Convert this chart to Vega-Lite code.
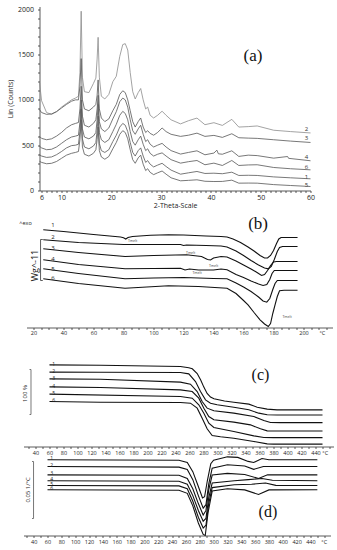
{
  "$schema": "https://vega.github.io/schema/vega-lite/v6.json",
  "background": "white",
  "padding": {"left": 6.5, "top": 4.5, "right": 0, "bottom": 0},
  "bounds": "flush",
  "spacing": 12,
  "config": {
    "view": {"stroke": null},
    "font": "Open Sans",
    "axis": {"grid": false, "domainColor": "#333", "tickColor": "#333", "labelColor": "#222", "titleColor": "#222", "labelFont": "Open Sans", "titleFont": "Open Sans", "titleFontWeight": "normal", "domainWidth": 0.8, "tickWidth": 0.8, "labelOverlap": false, "tickCount": 1000, "format": "d"}
  },
  "datasets": {
    "xrd": [
      {"c":"2","t":5.6,"v":1186},{"c":"2","t":6,"v":990},{"c":"2","t":7,"v":860},{"c":"2","t":8,"v":840},{"c":"2","t":9,"v":870},{"c":"2","t":10,"v":920},{"c":"2","t":11,"v":960},{"c":"2","t":12,"v":1000},{"c":"2","t":12.8,"v":1020},{"c":"2","t":13.4,"v":1040},{"c":"2","t":13.7,"v":1300},{"c":"2","t":13.95,"v":1978},{"c":"2","t":14.2,"v":1250},{"c":"2","t":14.6,"v":1090},{"c":"2","t":15.5,"v":1080},{"c":"2","t":16.4,"v":1180},{"c":"2","t":16.9,"v":1240},{"c":"2","t":17.15,"v":1450},{"c":"2","t":17.35,"v":1690},{"c":"2","t":17.6,"v":1250},{"c":"2","t":18,"v":1040},{"c":"2","t":18.7,"v":1010},{"c":"2","t":19.5,"v":1060},{"c":"2","t":20.3,"v":1200},{"c":"2","t":21,"v":1260},{"c":"2","t":21.7,"v":1480},{"c":"2","t":22.3,"v":1610},{"c":"2","t":22.8,"v":1620},{"c":"2","t":23.3,"v":1550},{"c":"2","t":23.8,"v":1300},{"c":"2","t":24.3,"v":1090},{"c":"2","t":24.8,"v":1010},{"c":"2","t":25.4,"v":1080},{"c":"2","t":25.9,"v":1125},{"c":"2","t":26.4,"v":1000},{"c":"2","t":26.9,"v":900},{"c":"2","t":27.3,"v":920},{"c":"2","t":27.8,"v":830},{"c":"2","t":28.5,"v":800},{"c":"2","t":29.3,"v":830},{"c":"2","t":30.2,"v":875},{"c":"2","t":31,"v":830},{"c":"2","t":32,"v":780},{"c":"2","t":33.9,"v":735},{"c":"2","t":35.5,"v":770},{"c":"2","t":37.2,"v":799},{"c":"2","t":38.8,"v":726},{"c":"2","t":40.6,"v":748},{"c":"2","t":42.3,"v":718},{"c":"2","t":44.2,"v":785},{"c":"2","t":45.6,"v":700},{"c":"2","t":47.5,"v":705},{"c":"2","t":49.3,"v":712},{"c":"2","t":52.6,"v":665},{"c":"2","t":56,"v":650},{"c":"2","t":60,"v":635},
      {"c":"3","t":5.6,"v":891},{"c":"3","t":6,"v":860},{"c":"3","t":7,"v":840},{"c":"3","t":8,"v":845},{"c":"3","t":9,"v":870},{"c":"3","t":10,"v":910},{"c":"3","t":11,"v":950},{"c":"3","t":12,"v":985},{"c":"3","t":12.8,"v":1000},{"c":"3","t":13.4,"v":1000},{"c":"3","t":13.7,"v":1150},{"c":"3","t":13.95,"v":1455},{"c":"3","t":14.2,"v":1000},{"c":"3","t":14.6,"v":900},{"c":"3","t":15.5,"v":880},{"c":"3","t":16.4,"v":920},{"c":"3","t":16.9,"v":950},{"c":"3","t":17.15,"v":1050},{"c":"3","t":17.35,"v":1220},{"c":"3","t":17.6,"v":900},{"c":"3","t":18,"v":800},{"c":"3","t":18.7,"v":760},{"c":"3","t":19.5,"v":790},{"c":"3","t":20.3,"v":880},{"c":"3","t":21,"v":950},{"c":"3","t":21.7,"v":1060},{"c":"3","t":22.3,"v":1100},{"c":"3","t":22.8,"v":1080},{"c":"3","t":23.3,"v":1000},{"c":"3","t":23.8,"v":880},{"c":"3","t":24.3,"v":760},{"c":"3","t":24.8,"v":700},{"c":"3","t":25.4,"v":760},{"c":"3","t":25.9,"v":800},{"c":"3","t":26.4,"v":700},{"c":"3","t":26.9,"v":640},{"c":"3","t":27.3,"v":660},{"c":"3","t":27.8,"v":630},{"c":"3","t":28.5,"v":610},{"c":"3","t":29.3,"v":640},{"c":"3","t":30.2,"v":690},{"c":"3","t":31,"v":650},{"c":"3","t":32,"v":620},{"c":"3","t":33.9,"v":597},{"c":"3","t":35.5,"v":610},{"c":"3","t":37.2,"v":633},{"c":"3","t":38.8,"v":597},{"c":"3","t":40.6,"v":608},{"c":"3","t":42.3,"v":586},{"c":"3","t":44.2,"v":626},{"c":"3","t":45.6,"v":582},{"c":"3","t":47.5,"v":578},{"c":"3","t":49.3,"v":575},{"c":"3","t":52.6,"v":560},{"c":"3","t":56,"v":545},{"c":"3","t":60,"v":530},
      {"c":"4","t":5.6,"v":597},{"c":"4","t":6,"v":575},{"c":"4","t":7,"v":560},{"c":"4","t":8,"v":570},{"c":"4","t":9,"v":600},{"c":"4","t":10,"v":640},{"c":"4","t":11,"v":690},{"c":"4","t":12,"v":725},{"c":"4","t":12.8,"v":740},{"c":"4","t":13.4,"v":750},{"c":"4","t":13.7,"v":900},{"c":"4","t":13.95,"v":1150},{"c":"4","t":14.2,"v":820},{"c":"4","t":14.6,"v":720},{"c":"4","t":15.5,"v":700},{"c":"4","t":16.4,"v":740},{"c":"4","t":16.9,"v":780},{"c":"4","t":17.15,"v":900},{"c":"4","t":17.35,"v":1050},{"c":"4","t":17.6,"v":760},{"c":"4","t":18,"v":680},{"c":"4","t":18.7,"v":650},{"c":"4","t":19.5,"v":690},{"c":"4","t":20.3,"v":790},{"c":"4","t":21,"v":870},{"c":"4","t":21.7,"v":980},{"c":"4","t":22.3,"v":1020},{"c":"4","t":22.8,"v":1000},{"c":"4","t":23.3,"v":920},{"c":"4","t":23.8,"v":780},{"c":"4","t":24.3,"v":660},{"c":"4","t":24.8,"v":620},{"c":"4","t":25.4,"v":680},{"c":"4","t":25.9,"v":720},{"c":"4","t":26.4,"v":620},{"c":"4","t":26.9,"v":540},{"c":"4","t":27.3,"v":560},{"c":"4","t":27.8,"v":510},{"c":"4","t":28.5,"v":480},{"c":"4","t":29.3,"v":500},{"c":"4","t":30.2,"v":520},{"c":"4","t":31,"v":480},{"c":"4","t":32,"v":440},{"c":"4","t":33.9,"v":402},{"c":"4","t":35.5,"v":420},{"c":"4","t":37.2,"v":438},{"c":"4","t":38.8,"v":394},{"c":"4","t":40.6,"v":413},{"c":"4","t":41.2,"v":445},{"c":"4","t":41.5,"v":405},{"c":"4","t":42.3,"v":400},{"c":"4","t":44.2,"v":438},{"c":"4","t":45.6,"v":376},{"c":"4","t":47.5,"v":390},{"c":"4","t":49.3,"v":385},{"c":"4","t":52.6,"v":357},{"c":"4","t":55.4,"v":375},{"c":"4","t":55.6,"v":355},{"c":"4","t":60,"v":328},
      {"c":"6","t":5.6,"v":487},{"c":"6","t":6,"v":470},{"c":"6","t":7,"v":450},{"c":"6","t":8,"v":455},{"c":"6","t":9,"v":480},{"c":"6","t":10,"v":520},{"c":"6","t":11,"v":560},{"c":"6","t":12,"v":590},{"c":"6","t":12.8,"v":600},{"c":"6","t":13.4,"v":610},{"c":"6","t":13.7,"v":750},{"c":"6","t":13.95,"v":1000},{"c":"6","t":14.2,"v":680},{"c":"6","t":14.6,"v":590},{"c":"6","t":15.5,"v":570},{"c":"6","t":16.4,"v":600},{"c":"6","t":16.9,"v":640},{"c":"6","t":17.15,"v":780},{"c":"6","t":17.35,"v":950},{"c":"6","t":17.6,"v":640},{"c":"6","t":18,"v":560},{"c":"6","t":18.7,"v":530},{"c":"6","t":19.5,"v":560},{"c":"6","t":20.3,"v":650},{"c":"6","t":21,"v":730},{"c":"6","t":21.7,"v":830},{"c":"6","t":22.3,"v":873},{"c":"6","t":22.8,"v":850},{"c":"6","t":23.3,"v":780},{"c":"6","t":23.8,"v":650},{"c":"6","t":24.3,"v":540},{"c":"6","t":24.8,"v":500},{"c":"6","t":25.4,"v":560},{"c":"6","t":25.9,"v":600},{"c":"6","t":26.4,"v":510},{"c":"6","t":26.9,"v":440},{"c":"6","t":27.3,"v":460},{"c":"6","t":27.8,"v":410},{"c":"6","t":28.5,"v":380},{"c":"6","t":29.3,"v":400},{"c":"6","t":30.2,"v":415},{"c":"6","t":31,"v":380},{"c":"6","t":32,"v":340},{"c":"6","t":33.9,"v":302},{"c":"6","t":35.5,"v":318},{"c":"6","t":37.2,"v":331},{"c":"6","t":38.8,"v":284},{"c":"6","t":40.6,"v":302},{"c":"6","t":42.3,"v":276},{"c":"6","t":44.2,"v":331},{"c":"6","t":45.6,"v":276},{"c":"6","t":47.5,"v":282},{"c":"6","t":49.3,"v":284},{"c":"6","t":52.6,"v":254},{"c":"6","t":56,"v":240},{"c":"6","t":60,"v":228},
      {"c":"1","t":5.6,"v":394},{"c":"1","t":6,"v":380},{"c":"1","t":7,"v":365},{"c":"1","t":8,"v":370},{"c":"1","t":9,"v":395},{"c":"1","t":10,"v":430},{"c":"1","t":11,"v":470},{"c":"1","t":12,"v":495},{"c":"1","t":12.8,"v":500},{"c":"1","t":13.4,"v":510},{"c":"1","t":13.7,"v":650},{"c":"1","t":13.95,"v":900},{"c":"1","t":14.2,"v":570},{"c":"1","t":14.6,"v":480},{"c":"1","t":15.5,"v":460},{"c":"1","t":16.4,"v":490},{"c":"1","t":16.9,"v":530},{"c":"1","t":17.15,"v":660},{"c":"1","t":17.35,"v":820},{"c":"1","t":17.6,"v":520},{"c":"1","t":18,"v":440},{"c":"1","t":18.7,"v":420},{"c":"1","t":19.5,"v":450},{"c":"1","t":20.3,"v":540},{"c":"1","t":21,"v":610},{"c":"1","t":21.7,"v":700},{"c":"1","t":22.3,"v":740},{"c":"1","t":22.8,"v":720},{"c":"1","t":23.3,"v":650},{"c":"1","t":23.8,"v":530},{"c":"1","t":24.3,"v":420},{"c":"1","t":24.8,"v":380},{"c":"1","t":25.4,"v":440},{"c":"1","t":25.9,"v":470},{"c":"1","t":26.4,"v":380},{"c":"1","t":26.9,"v":310},{"c":"1","t":27.3,"v":330},{"c":"1","t":27.8,"v":290},{"c":"1","t":28.5,"v":260},{"c":"1","t":29.3,"v":280},{"c":"1","t":30.2,"v":300},{"c":"1","t":31,"v":265},{"c":"1","t":32,"v":225},{"c":"1","t":33.9,"v":180},{"c":"1","t":35.5,"v":195},{"c":"1","t":37.2,"v":210},{"c":"1","t":38.8,"v":188},{"c":"1","t":40.6,"v":191},{"c":"1","t":42.3,"v":185},{"c":"1","t":44.2,"v":202},{"c":"1","t":45.6,"v":166},{"c":"1","t":47.5,"v":168},{"c":"1","t":49.3,"v":166},{"c":"1","t":52.6,"v":150},{"c":"1","t":56,"v":140},{"c":"1","t":60,"v":129},
      {"c":"5","t":5.6,"v":321},{"c":"5","t":6,"v":310},{"c":"5","t":7,"v":295},{"c":"5","t":8,"v":300},{"c":"5","t":9,"v":320},{"c":"5","t":10,"v":355},{"c":"5","t":11,"v":390},{"c":"5","t":12,"v":410},{"c":"5","t":12.8,"v":420},{"c":"5","t":13.4,"v":430},{"c":"5","t":13.7,"v":560},{"c":"5","t":13.95,"v":780},{"c":"5","t":14.2,"v":480},{"c":"5","t":14.6,"v":400},{"c":"5","t":15.5,"v":380},{"c":"5","t":16.4,"v":410},{"c":"5","t":16.9,"v":450},{"c":"5","t":17.15,"v":560},{"c":"5","t":17.35,"v":700},{"c":"5","t":17.6,"v":440},{"c":"5","t":18,"v":370},{"c":"5","t":18.7,"v":345},{"c":"5","t":19.5,"v":375},{"c":"5","t":20.3,"v":460},{"c":"5","t":21,"v":530},{"c":"5","t":21.7,"v":620},{"c":"5","t":22.3,"v":660},{"c":"5","t":22.8,"v":640},{"c":"5","t":23.3,"v":570},{"c":"5","t":23.8,"v":450},{"c":"5","t":24.3,"v":340},{"c":"5","t":24.8,"v":300},{"c":"5","t":25.4,"v":360},{"c":"5","t":25.9,"v":390},{"c":"5","t":26.4,"v":290},{"c":"5","t":26.9,"v":220},{"c":"5","t":27.3,"v":240},{"c":"5","t":27.8,"v":200},{"c":"5","t":28.5,"v":175},{"c":"5","t":29.3,"v":195},{"c":"5","t":30.2,"v":215},{"c":"5","t":31,"v":180},{"c":"5","t":32,"v":140},{"c":"5","t":33.9,"v":107},{"c":"5","t":35.5,"v":112},{"c":"5","t":37.2,"v":118},{"c":"5","t":38.8,"v":102},{"c":"5","t":40.6,"v":99},{"c":"5","t":42.3,"v":100},{"c":"5","t":44.2,"v":114},{"c":"5","t":45.6,"v":81},{"c":"5","t":47.5,"v":82},{"c":"5","t":49.3,"v":81},{"c":"5","t":52.6,"v":65},{"c":"5","t":56,"v":55},{"c":"5","t":60,"v":44}
    ],
    "xrdLab": [
      {"c":"2","t":59.2,"v":678},{"c":"3","t":59.2,"v":575},{"c":"4","t":59.2,"v":368},{"c":"6","t":59.2,"v":257},{"c":"1","t":59.2,"v":152},{"c":"5","t":59.2,"v":66}
    ],
    "dsc": [
      {"c":"1","t":26.5,"v":97.7},{"c":"1","t":40,"v":96},{"c":"1","t":60,"v":93},{"c":"1","t":78,"v":90.5},{"c":"1","t":80,"v":89.8},{"c":"1","t":81.5,"v":88.5},{"c":"1","t":83,"v":90},{"c":"1","t":86,"v":91},{"c":"1","t":98,"v":92.3},{"c":"1","t":110,"v":92.7},{"c":"1","t":120,"v":92.5},{"c":"1","t":135,"v":91.5},{"c":"1","t":145,"v":91},{"c":"1","t":149,"v":90.5},{"c":"1","t":153,"v":88.5},{"c":"1","t":158,"v":85},{"c":"1","t":163,"v":80.5},{"c":"1","t":167,"v":76.5},{"c":"1","t":171,"v":72},{"c":"1","t":174,"v":69.5},{"c":"1","t":176,"v":69.5},{"c":"1","t":178,"v":72},{"c":"1","t":180,"v":77},{"c":"1","t":182,"v":84},{"c":"1","t":183.5,"v":88.5},{"c":"1","t":185,"v":90},{"c":"1","t":190,"v":90},{"c":"1","t":196,"v":90},
      {"c":"2","t":26.5,"v":87.7},{"c":"2","t":50,"v":85},{"c":"2","t":80,"v":83},{"c":"2","t":100,"v":83},{"c":"2","t":118,"v":83},{"c":"2","t":120,"v":82},{"c":"2","t":122,"v":82.5},{"c":"2","t":135,"v":82},{"c":"2","t":145,"v":81.5},{"c":"2","t":149,"v":80.5},{"c":"2","t":155,"v":76.5},{"c":"2","t":160,"v":72},{"c":"2","t":165,"v":67},{"c":"2","t":170,"v":62.5},{"c":"2","t":174,"v":59.5},{"c":"2","t":176.5,"v":58.7},{"c":"2","t":178.5,"v":61},{"c":"2","t":180.5,"v":68},{"c":"2","t":182.5,"v":76},{"c":"2","t":184,"v":80},{"c":"2","t":186,"v":81},{"c":"2","t":196,"v":81},
      {"c":"3","t":26.5,"v":78.7},{"c":"3","t":50,"v":75},{"c":"3","t":81,"v":71},{"c":"3","t":100,"v":72},{"c":"3","t":122,"v":72.7},{"c":"3","t":132,"v":71},{"c":"3","t":136,"v":68},{"c":"3","t":138,"v":67.5},{"c":"3","t":140,"v":69.5},{"c":"3","t":145,"v":71},{"c":"3","t":149,"v":70.5},{"c":"3","t":155,"v":66.5},{"c":"3","t":160,"v":62.5},{"c":"3","t":165,"v":58.5},{"c":"3","t":169,"v":55},{"c":"3","t":172,"v":52},{"c":"3","t":174,"v":53},{"c":"3","t":176,"v":57},{"c":"3","t":178,"v":62},{"c":"3","t":180,"v":65.5},{"c":"3","t":182,"v":66},{"c":"3","t":196,"v":66},
      {"c":"4","t":26.5,"v":67.7},{"c":"4","t":50,"v":63},{"c":"4","t":81,"v":58.7},{"c":"4","t":100,"v":59},{"c":"4","t":118,"v":59.3},{"c":"4","t":121,"v":57.5},{"c":"4","t":124,"v":58.5},{"c":"4","t":130,"v":57.5},{"c":"4","t":140,"v":57.5},{"c":"4","t":145,"v":58.5},{"c":"4","t":149,"v":57.7},{"c":"4","t":155,"v":53},{"c":"4","t":160,"v":50},{"c":"4","t":165,"v":46.5},{"c":"4","t":170,"v":43.5},{"c":"4","t":173,"v":42},{"c":"4","t":175.5,"v":43},{"c":"4","t":177.5,"v":48},{"c":"4","t":179,"v":54},{"c":"4","t":180.5,"v":57},{"c":"4","t":196,"v":57},
      {"c":"5","t":26.5,"v":58.7},{"c":"5","t":50,"v":54},{"c":"5","t":81,"v":48.7},{"c":"5","t":100,"v":49.5},{"c":"5","t":120,"v":50},{"c":"5","t":140,"v":49},{"c":"5","t":149,"v":48.7},{"c":"5","t":155,"v":44.5},{"c":"5","t":160,"v":40.5},{"c":"5","t":165,"v":36},{"c":"5","t":170,"v":30.5},{"c":"5","t":173,"v":26.5},{"c":"5","t":175.5,"v":25.3},{"c":"5","t":177.5,"v":29},{"c":"5","t":179.5,"v":38},{"c":"5","t":181,"v":44},{"c":"5","t":182.5,"v":47},{"c":"5","t":196,"v":47},
      {"c":"6","t":26.5,"v":48.7},{"c":"6","t":50,"v":44},{"c":"6","t":81,"v":39.3},{"c":"6","t":110,"v":41.7},{"c":"6","t":130,"v":41},{"c":"6","t":149,"v":39.3},{"c":"6","t":155,"v":34},{"c":"6","t":160,"v":27},{"c":"6","t":163,"v":22.7},{"c":"6","t":167,"v":15},{"c":"6","t":171,"v":7.7},{"c":"6","t":174,"v":3.5},{"c":"6","t":176.5,"v":1},{"c":"6","t":178,"v":4},{"c":"6","t":179.5,"v":14},{"c":"6","t":181,"v":22.7},{"c":"6","t":182.5,"v":31},{"c":"6","t":184,"v":36.7},{"c":"6","t":187,"v":37.3},{"c":"6","t":196,"v":37.3}
    ],
    "dscLab": [
      {"s":"1","t":33,"v":103},{"s":"2","t":33,"v":91},{"s":"3","t":33,"v":80},{"s":"4","t":33,"v":69},{"s":"5","t":33,"v":59},{"s":"6","t":33,"v":50}
    ],
    "dscTm": [
      {"s":"Tmelt","t":86,"v":86.7},{"s":"Tmelt","t":124.7,"v":75},{"s":"Tmelt","t":140,"v":62},{"s":"Tmelt","t":129,"v":55},{"s":"Tmelt","t":189,"v":11}
    ],
    "tga": [
      {"c":"1","t":60,"v":181.5},{"c":"1","t":133,"v":180.5},{"c":"1","t":247,"v":177.8},{"c":"1","t":259,"v":175},{"c":"1","t":264,"v":172.6},{"c":"1","t":271,"v":162},{"c":"1","t":276,"v":148},{"c":"1","t":280.5,"v":132},{"c":"1","t":285.2,"v":118},{"c":"1","t":290,"v":110},{"c":"1","t":295,"v":106},{"c":"1","t":310,"v":101},{"c":"1","t":323.3,"v":98.5},{"c":"1","t":344.8,"v":94.1},{"c":"1","t":356.7,"v":87.4},{"c":"1","t":371,"v":83},{"c":"1","t":385,"v":81.5},{"c":"1","t":450,"v":81.5},
      {"c":"2","t":60,"v":165.2},{"c":"2","t":133,"v":165},{"c":"2","t":247,"v":164.4},{"c":"2","t":259,"v":161.5},{"c":"2","t":268.6,"v":144.4},{"c":"2","t":275.7,"v":122.2},{"c":"2","t":282.9,"v":103.7},{"c":"2","t":290,"v":96.3},{"c":"2","t":299.5,"v":92.6},{"c":"2","t":323.3,"v":87.4},{"c":"2","t":344.8,"v":81.5},{"c":"2","t":359,"v":74.1},{"c":"2","t":371,"v":70.4},{"c":"2","t":385,"v":70},{"c":"2","t":450,"v":70},
      {"c":"3","t":60,"v":150.4},{"c":"3","t":133,"v":149.6},{"c":"3","t":247,"v":143},{"c":"3","t":261.4,"v":138.5},{"c":"3","t":271,"v":122.2},{"c":"3","t":278.1,"v":100},{"c":"3","t":285.2,"v":85.2},{"c":"3","t":294.8,"v":79.3},{"c":"3","t":323.3,"v":74.1},{"c":"3","t":351.9,"v":66.7},{"c":"3","t":366.2,"v":57.8},{"c":"3","t":375.7,"v":53.3},{"c":"3","t":390,"v":53},{"c":"3","t":450,"v":53},
      {"c":"4","t":60,"v":132.6},{"c":"4","t":133,"v":131.1},{"c":"4","t":247,"v":125.9},{"c":"4","t":263.9,"v":122.2},{"c":"4","t":273.3,"v":107.4},{"c":"4","t":280.5,"v":85.2},{"c":"4","t":287.6,"v":66.7},{"c":"4","t":294.8,"v":59.3},{"c":"4","t":323.3,"v":54.1},{"c":"4","t":347.1,"v":48.1},{"c":"4","t":361.4,"v":39.3},{"c":"4","t":371,"v":34.8},{"c":"4","t":385,"v":34.5},{"c":"4","t":450,"v":34.5},
      {"c":"5","t":60,"v":116.3},{"c":"5","t":247,"v":111.1},{"c":"5","t":263.9,"v":107.4},{"c":"5","t":273.3,"v":92.6},{"c":"5","t":280.5,"v":74.1},{"c":"5","t":287.6,"v":51.9},{"c":"5","t":294.8,"v":42.2},{"c":"5","t":323.3,"v":33.3},{"c":"5","t":351.9,"v":23.7},{"c":"5","t":366.2,"v":20},{"c":"5","t":380,"v":19.8},{"c":"5","t":450,"v":19.8},
      {"c":"6","t":60,"v":100},{"c":"6","t":133,"v":98.5},{"c":"6","t":247,"v":97.8},{"c":"6","t":261.4,"v":96.3},{"c":"6","t":271,"v":85.2},{"c":"6","t":278.1,"v":63},{"c":"6","t":285.2,"v":39.3},{"c":"6","t":292.4,"v":24.4},{"c":"6","t":304.3,"v":21.5},{"c":"6","t":323.3,"v":18.5},{"c":"6","t":351.9,"v":11.1},{"c":"6","t":371,"v":5.9},{"c":"6","t":380,"v":5.2},{"c":"6","t":450,"v":5.2}
    ],
    "tgaLab": [
      {"s":"1","t":66,"v":183.5},{"s":"2","t":66,"v":167.5},{"s":"3","t":66,"v":152.5},{"s":"4","t":66,"v":134.5},{"s":"5","t":66,"v":118.5},{"s":"6","t":66,"v":102.5}
    ],
    "dtg": [
      {"c":"1","t":60,"v":6.64},{"c":"1","t":250,"v":6.6},{"c":"1","t":262,"v":6.4},{"c":"1","t":270,"v":5.6},{"c":"1","t":278,"v":4.3},{"c":"1","t":284,"v":3.3},{"c":"1","t":287,"v":3.4},{"c":"1","t":291,"v":4.8},{"c":"1","t":296,"v":6.3},{"c":"1","t":300,"v":6.6},{"c":"1","t":320,"v":6.9},{"c":"1","t":335,"v":6.85},{"c":"1","t":350,"v":6.5},{"c":"1","t":358,"v":6.4},{"c":"1","t":370,"v":6.75},{"c":"1","t":380,"v":6.64},{"c":"1","t":450,"v":6.64},
      {"c":"2","t":60,"v":6.05},{"c":"2","t":250,"v":6.0},{"c":"2","t":262,"v":5.8},{"c":"2","t":270,"v":4.9},{"c":"2","t":278,"v":3.5},{"c":"2","t":285,"v":2.4},{"c":"2","t":289,"v":2.7},{"c":"2","t":293,"v":4.5},{"c":"2","t":298,"v":5.9},{"c":"2","t":320,"v":6.2},{"c":"2","t":345,"v":6.1},{"c":"2","t":358,"v":5.8},{"c":"2","t":372,"v":6.05},{"c":"2","t":450,"v":6.05},
      {"c":"3","t":60,"v":5.32},{"c":"3","t":250,"v":5.28},{"c":"3","t":262,"v":5.0},{"c":"3","t":270,"v":4.1},{"c":"3","t":278,"v":2.8},{"c":"3","t":285,"v":1.8},{"c":"3","t":289,"v":2.2},{"c":"3","t":293,"v":4.0},{"c":"3","t":298,"v":5.3},{"c":"3","t":320,"v":5.45},{"c":"3","t":345,"v":5.35},{"c":"3","t":365,"v":5.0},{"c":"3","t":378,"v":5.32},{"c":"3","t":450,"v":5.32},
      {"c":"4","t":60,"v":4.8},{"c":"4","t":250,"v":4.76},{"c":"4","t":262,"v":4.5},{"c":"4","t":270,"v":3.5},{"c":"4","t":278,"v":2.2},{"c":"4","t":285,"v":1.25},{"c":"4","t":289,"v":1.5},{"c":"4","t":293,"v":3.3},{"c":"4","t":298,"v":4.6},{"c":"4","t":330,"v":4.8},{"c":"4","t":350,"v":4.9},{"c":"4","t":370,"v":5.0},{"c":"4","t":385,"v":4.85},{"c":"4","t":450,"v":4.8},
      {"c":"5","t":60,"v":4.39},{"c":"5","t":250,"v":4.35},{"c":"5","t":262,"v":4.1},{"c":"5","t":270,"v":3.0},{"c":"5","t":278,"v":1.6},{"c":"5","t":285,"v":0.65},{"c":"5","t":289,"v":0.9},{"c":"5","t":293,"v":2.8},{"c":"5","t":298,"v":4.2},{"c":"5","t":330,"v":4.45},{"c":"5","t":355,"v":4.5},{"c":"5","t":375,"v":4.6},{"c":"5","t":390,"v":4.4},{"c":"5","t":450,"v":4.39},
      {"c":"6","t":60,"v":4.01},{"c":"6","t":250,"v":3.97},{"c":"6","t":262,"v":3.7},{"c":"6","t":270,"v":2.6},{"c":"6","t":278,"v":1.1},{"c":"6","t":285,"v":0.1},{"c":"6","t":288,"v":0.0},{"c":"6","t":292,"v":2.0},{"c":"6","t":298,"v":3.9},{"c":"6","t":320,"v":4.1},{"c":"6","t":345,"v":4.0},{"c":"6","t":365,"v":3.6},{"c":"6","t":380,"v":4.0},{"c":"6","t":450,"v":4.01}
    ],
    "dtgLab": [
      {"s":"1","t":66,"v":6.8},{"s":"2","t":66,"v":6.2},{"s":"3","t":66,"v":5.5},{"s":"4","t":66,"v":4.95},{"s":"5","t":66,"v":4.55},{"s":"6","t":66,"v":4.15}
    ]
  },
  "vconcat": [
    {
      "width": 271,
      "height": 184,
      "layer": [
        {
          "data": {"name": "xrd"},
          "mark": {"type": "line", "strokeWidth": 0.8},
          "encoding": {
            "x": {"field": "t", "type": "quantitative", "scale": {"domain": [5.58, 60], "nice": false, "zero": false},
              "axis": {"title": "2-Theta-Scale", "titleFontSize": 7, "titlePadding": 1, "labelFontSize": 7, "tickSize": 2, "labelPadding": 0.5, "labelOverlap": false, "labelFlush": false, "tickCount": 1000, "format": "d",
                "values": [6,7,8,9,10,11,12,13,14,15,16,17,18,19,20,21,22,23,24,25,26,27,28,29,30,31,32,33,34,35,36,37,38,39,40,41,42,43,44,45,46,47,48,49,50,51,52,53,54,55,56,57,58,59,60],
                "labelExpr": "indexof([6,10,20,30,40,50,60], datum.value) >= 0 ? datum.label : ''"}},
            "y": {"field": "v", "type": "quantitative", "scale": {"domain": [0, 2030], "nice": false},
              "axis": {"title": "Lin (Counts)", "titleFontSize": 7, "titlePadding": 3.5, "labelFontSize": 7, "tickSize": 2, "labelPadding": 4, "labelOverlap": false, "labelFlush": false, "tickCount": 1000, "format": "d",
                "values": [0,100,200,300,400,500,600,700,800,900,1000,1100,1200,1300,1400,1500,1600,1700,1800,1900,2000],
                "labelExpr": "datum.value % 500 === 0 ? datum.label : ''"}},
            "color": {"field": "c", "type": "nominal", "scale": {"domain": ["2","3","4","6","1","5"], "range": ["#8c8c8c","#555555","#555555","#555555","#555555","#555555"]}, "legend": null}
          }
        },
        {
          "data": {"name": "xrdLab"},
          "mark": {"type": "text", "fontSize": 6, "font": "Open Sans", "color": "#333", "baseline": "middle"},
          "encoding": {
            "x": {"field": "t", "type": "quantitative"},
            "y": {"field": "v", "type": "quantitative"},
            "text": {"field": "c"}
          }
        },
        {
          "data": {"values": [{"s": "(a)", "t": 48.45, "v": 1481}]},
          "mark": {"type": "text", "fontSize": 17, "font": "Liberation Serif", "color": "#111", "baseline": "middle"},
          "encoding": {
            "x": {"field": "t", "type": "quantitative"},
            "y": {"field": "v", "type": "quantitative"},
            "text": {"field": "s"}
          }
        }
      ]
    },
    {
      "width": 293,
      "height": 125,
      "layer": [
        {
          "data": {"name": "dsc"},
          "mark": {"type": "line", "strokeWidth": 1.1, "color": "#111"},
          "encoding": {
            "x": {"field": "t", "type": "quantitative", "scale": {"domain": [15.33, 219.3], "range": [-13, 293], "nice": false, "zero": false},
              "axis": {"title": null, "labelFontSize": 5.5, "tickSize": 2, "labelPadding": 0.5, "labelOverlap": false, "labelFlush": false, "tickCount": 1000, "format": "d",
                "values": [20,25,30,35,40,45,50,55,60,65,70,75,80,85,90,95,100,105,110,115,120,125,130,135,140,145,150,155,160,165,170,175,180,185,190,195,200,205,210,215],
                "labelExpr": "datum.value % 20 === 0 && datum.value <= 200 ? datum.label : ''"}},
            "y": {"field": "v", "type": "quantitative", "scale": {"domain": [0, 125], "nice": false}, "axis": null},
            "detail": {"field": "c"}
          }
        },
        {
          "data": {"name": "dscLab"},
          "mark": {"type": "text", "fontSize": 6, "color": "#222", "baseline": "middle"},
          "encoding": {"x": {"field": "t", "type": "quantitative"}, "y": {"field": "v", "type": "quantitative"}, "text": {"field": "s"}}
        },
        {
          "data": {"name": "dscTm"},
          "mark": {"type": "text", "fontSize": 3.5, "color": "#444", "baseline": "middle"},
          "encoding": {"x": {"field": "t", "type": "quantitative"}, "y": {"field": "v", "type": "quantitative"}, "text": {"field": "s"}}
        },
        {
          "data": {"values": [{"s": "^exo", "t": 14.7, "v": 105, "a": 0, "f": 5.5}, {"s": "Wg^-11", "t": 20.7, "v": 62, "a": 270, "f": 9}, {"s": "°C", "t": 212.5, "v": -5.3, "a": 0, "f": 5.5}]},
          "mark": {"type": "text", "color": "#222", "baseline": "middle"},
          "encoding": {"x": {"field": "t", "type": "quantitative"}, "y": {"field": "v", "type": "quantitative"}, "text": {"field": "s"}, "angle": {"field": "a", "type": "quantitative", "scale": null}, "size": {"field": "f", "type": "quantitative", "scale": null}}
        },
        {
          "data": {"values": [{"t": 24.7, "t2": 24.7, "v": 88, "v2": 47}, {"t": 24.7, "t2": 26.2, "v": 88, "v2": 88}, {"t": 24.7, "t2": 26.2, "v": 47, "v2": 47}]},
          "mark": {"type": "rule", "strokeWidth": 0.8, "color": "#333"},
          "encoding": {"x": {"field": "t", "type": "quantitative"}, "x2": {"field": "t2"}, "y": {"field": "v", "type": "quantitative"}, "y2": {"field": "v2"}}
        },
        {
          "data": {"values": [{"s": "(b)", "t": 169.7, "v": 104}]},
          "mark": {"type": "text", "fontSize": 17, "font": "Liberation Serif", "color": "#111", "baseline": "middle"},
          "encoding": {"x": {"field": "t", "type": "quantitative"}, "y": {"field": "v", "type": "quantitative"}, "text": {"field": "s"}}
        }
      ]
    },
    {
      "width": 294,
      "height": 107,
      "layer": [
        {
          "data": {"name": "tga"},
          "mark": {"type": "line", "strokeWidth": 1.1, "color": "#111"},
          "encoding": {
            "x": {"field": "t", "type": "quantitative", "scale": {"domain": [22.9, 465.7], "range": [-16, 294], "nice": false, "zero": false},
              "axis": {"title": null, "labelFontSize": 5.5, "tickSize": 2, "labelPadding": 1.5, "labelOverlap": false, "labelFlush": false, "tickCount": 1000, "format": "d",
                "values": [30,40,50,60,70,80,90,100,110,120,130,140,150,160,170,180,190,200,210,220,230,240,250,260,270,280,290,300,310,320,330,340,350,360,370,380,390,400,410,420,430,440,450,460],
                "labelExpr": "datum.value % 20 === 0 && datum.value >= 40 && datum.value <= 440 ? datum.label : ''"}},
            "y": {"field": "v", "type": "quantitative", "scale": {"domain": [0, 237.8], "nice": false}, "axis": null},
            "detail": {"field": "c"}
          }
        },
        {
          "data": {"name": "tgaLab"},
          "mark": {"type": "text", "fontSize": 5, "color": "#222", "baseline": "middle"},
          "encoding": {"x": {"field": "t", "type": "quantitative"}, "y": {"field": "v", "type": "quantitative"}, "text": {"field": "s"}}
        },
        {
          "data": {"values": [{"s": "100 %", "t": 25.7, "v": 117.8, "a": 270, "f": 6}, {"s": "°C", "t": 453.9, "v": -14.5, "a": 0, "f": 5.5}]},
          "mark": {"type": "text", "color": "#222", "baseline": "middle"},
          "encoding": {"x": {"field": "t", "type": "quantitative"}, "y": {"field": "v", "type": "quantitative"}, "text": {"field": "s"}, "angle": {"field": "a", "type": "quantitative", "scale": null}, "size": {"field": "f", "type": "quantitative", "scale": null}}
        },
        {
          "data": {"values": [{"t": 33.6, "t2": 33.6, "v": 171.1, "v2": 71.1}, {"t": 31.5, "t2": 33.6, "v": 171.1, "v2": 171.1}, {"t": 31.5, "t2": 33.6, "v": 71.1, "v2": 71.1}]},
          "mark": {"type": "rule", "strokeWidth": 0.8, "color": "#555"},
          "encoding": {"x": {"field": "t", "type": "quantitative"}, "x2": {"field": "t2"}, "y": {"field": "v", "type": "quantitative"}, "y2": {"field": "v2"}}
        },
        {
          "data": {"values": [{"s": "(c)", "t": 361.4, "v": 160}]},
          "mark": {"type": "text", "fontSize": 16, "font": "Liberation Serif", "color": "#111", "baseline": "middle"},
          "encoding": {"x": {"field": "t", "type": "quantitative"}, "y": {"field": "v", "type": "quantitative"}, "text": {"field": "s"}}
        }
      ]
    },
    {
      "width": 291,
      "height": 77,
      "layer": [
        {
          "data": {"name": "dtg"},
          "mark": {"type": "line", "strokeWidth": 1.1, "color": "#111"},
          "encoding": {
            "x": {"field": "t", "type": "quantitative", "scale": {"domain": [25.3, 469], "range": [-16, 291], "nice": false, "zero": false},
              "axis": {"title": null, "labelFontSize": 5.5, "tickSize": 2, "labelPadding": 1.5, "labelOverlap": false, "labelFlush": false, "tickCount": 1000, "format": "d",
                "values": [30,40,50,60,70,80,90,100,110,120,130,140,150,160,170,180,190,200,210,220,230,240,250,260,270,280,290,300,310,320,330,340,350,360,370,380,390,400,410,420,430,440,450,460],
                "labelExpr": "datum.value % 20 === 0 && datum.value >= 40 && datum.value <= 440 ? datum.label : ''"}},
            "y": {"field": "v", "type": "quantitative", "scale": {"domain": [0, 6.754], "nice": false}, "axis": null},
            "detail": {"field": "c"}
          }
        },
        {
          "data": {"name": "dtgLab"},
          "mark": {"type": "text", "fontSize": 5, "color": "#222", "baseline": "middle"},
          "encoding": {"x": {"field": "t", "type": "quantitative"}, "y": {"field": "v", "type": "quantitative"}, "text": {"field": "s"}}
        },
        {
          "data": {"values": [{"s": "0.05 1/°C", "t": 32.5, "v": 4.0, "a": 270, "f": 6}, {"s": "°C", "t": 460, "v": -0.58, "a": 0, "f": 5.5}]},
          "mark": {"type": "text", "color": "#222", "baseline": "middle"},
          "encoding": {"x": {"field": "t", "type": "quantitative"}, "y": {"field": "v", "type": "quantitative"}, "text": {"field": "s"}, "angle": {"field": "a", "type": "quantitative", "scale": null}, "size": {"field": "f", "type": "quantitative", "scale": null}}
        },
        {
          "data": {"values": [{"t": 39.8, "t2": 39.8, "v": 6.49, "v2": 1.49}, {"t": 37.6, "t2": 39.8, "v": 6.49, "v2": 6.49}, {"t": 37.6, "t2": 39.8, "v": 1.49, "v2": 1.49}]},
          "mark": {"type": "rule", "strokeWidth": 0.8, "color": "#555"},
          "encoding": {"x": {"field": "t", "type": "quantitative"}, "x2": {"field": "t2"}, "y": {"field": "v", "type": "quantitative"}, "y2": {"field": "v2"}}
        },
        {
          "data": {"values": [{"s": "(d)", "t": 378.6, "v": 2.1}]},
          "mark": {"type": "text", "fontSize": 16, "font": "Liberation Serif", "color": "#111", "baseline": "middle"},
          "encoding": {"x": {"field": "t", "type": "quantitative"}, "y": {"field": "v", "type": "quantitative"}, "text": {"field": "s"}}
        }
      ]
    }
  ]
}
